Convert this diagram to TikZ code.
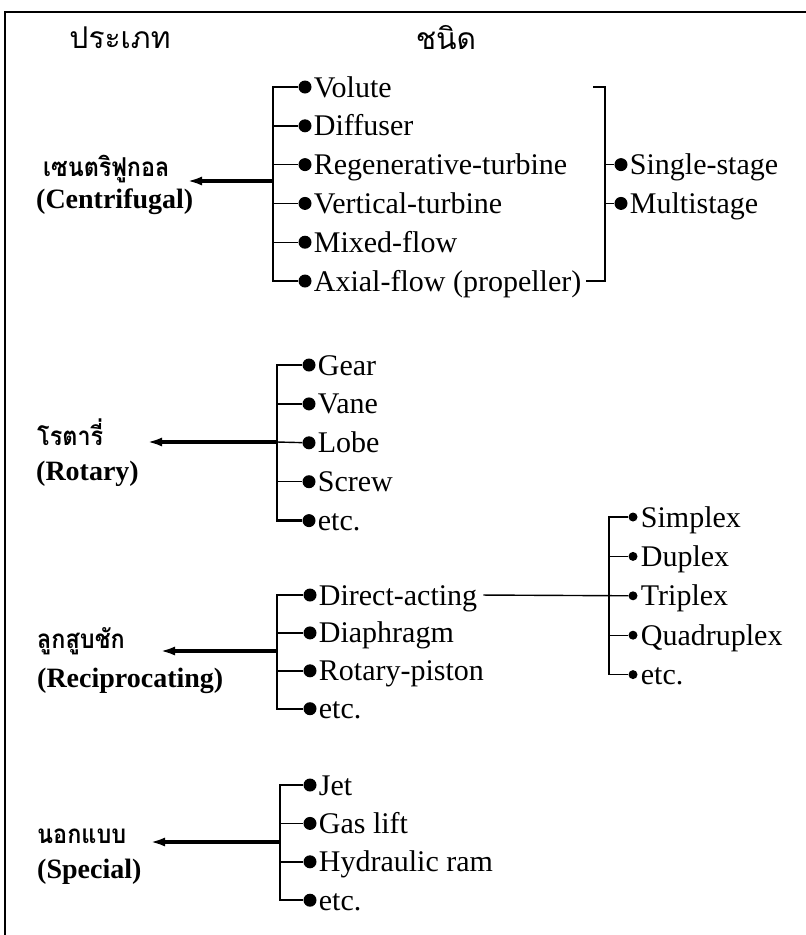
\documentclass[tikz,border=0pt]{standalone}
\usepackage{fontspec}
\setmainfont{Liberation Serif}
\newfontfamily\thaifont[Script=Thai]{Loma}
\newfontfamily\thaikind[Script=Thai, FakeStretch=0.9]{Loma}
\usetikzlibrary{positioning,arrows.meta}

\begin{document}
\begin{tikzpicture}[x=1pt,y=-1pt,
        dot/.style={circle, fill, inner sep=0pt, minimum size=13pt},
        smalldot/.style={circle, fill, inner sep=0pt, minimum size=9pt},
        item/.style={
            anchor=west,
            inner sep=0pt,
            text height=20pt,
            text depth=0pt,
            font=\fontsize{30}{34}\selectfont
        },
        kind/.style={anchor=west, inner sep=0pt, font=\thaikind\bfseries\fontsize{26}{30}\selectfont},
        kinden/.style={anchor=west, inner sep=0pt, font=\bfseries\fontsize{28}{32}\selectfont},
        head/.style={inner sep=0pt, font=\thaifont\fontsize{30}{34}\selectfont},
        trunk/.style={line width=2.4pt},
        twig/.style={line width=1.4pt},
        link/.style={line width=3.6pt, -{Latex[length=15pt,width=9pt]}}
    ]
        \useasboundingbox (0,0) rectangle (806,935);
        \draw[line width=1.5pt] (5,935) -- (5,12) -- (806,12);

        \node[head] (type) at (120,38) {ประเภท};
        \node[head] (sort) at (446,38) {ชนิด};

        % centrifugal
        \node[dot] (volute) at (305,87) {};
        \node[item, right=2pt of volute] (voluteT) {Volute};
        \node[dot, below=25.4pt of volute] (diffuser) {};
        \node[item, right=2pt of diffuser] (diffuserT) {Diffuser};
        \node[dot, below=25.4pt of diffuser] (regen) {};
        \node[item, right=2pt of regen] (regenT) {Regenerative-turbine};
        \node[dot, below=25.4pt of regen] (vertical) {};
        \node[item, right=2pt of vertical] (verticalT) {Vertical-turbine};
        \node[dot, below=25.4pt of vertical] (mixed) {};
        \node[item, right=2pt of mixed] (mixedT) {Mixed-flow};
        \node[dot, below=25.4pt of mixed] (axial) {};
        \node[item, right=2pt of axial] (axialT) {Axial-flow (propeller)};

        \coordinate (ctrunk) at (273,181);
        \coordinate (ctip) at (187,181);
        \draw[trunk] (volute) -| (ctrunk) |- (axial);
        \draw[twig] (ctrunk |- diffuser) -- (diffuser);
        \draw[twig] (ctrunk |- regen) -- (regen);
        \draw[twig] (ctrunk |- vertical) -- (vertical);
        \draw[twig] (ctrunk |- mixed) -- (mixed);
        \draw[link] (ctrunk) -- (ctip);

        \node[kind] (centri) at (43,169) {เซนตริฟูกอล};
        \node[kinden] (centriEn) at (36,202) {(Centrifugal)};

        \coordinate (btop) at (593,87);
        \coordinate (bcol) at (605,182);
        \draw[trunk] (btop) -| (bcol) |- ([xshift=5pt]axialT.east);
        \node[dot, xshift=16pt] (single) at (bcol |- regen) {};
        \node[item, right=2pt of single] (singleT) {Single-stage};
        \node[dot, xshift=16pt] (multi) at (bcol |- vertical) {};
        \node[item, right=2pt of multi] (multiT) {Multistage};
        \draw[twig] (bcol |- single) -- (single);
        \draw[twig] (bcol |- multi) -- (multi);

        % rotary
        \node[dot] (gear) at (309,365) {};
        \node[item, right=2pt of gear] (gearT) {Gear};
        \node[dot, below=25.5pt of gear] (vane) {};
        \node[item, right=2pt of vane] (vaneT) {Vane};
        \node[dot, below=25.5pt of vane] (lobe) {};
        \node[item, right=2pt of lobe] (lobeT) {Lobe};
        \node[dot, below=25.5pt of lobe] (screw) {};
        \node[item, right=2pt of screw] (screwT) {Screw};
        \node[dot, below=25.5pt of screw] (retc) {};
        \node[item, right=2pt of retc] (retcT) {etc.};

        \coordinate (rtrunk) at (277,442);
        \coordinate (rtip) at (147,442);
        \draw[trunk] (gear) -| (rtrunk) |- (retc);
        \draw[twig] (rtrunk |- vane) -- (vane);
        \draw[twig] (rtrunk) -- (lobe);
        \draw[twig] (rtrunk |- screw) -- (screw);
        \draw[link] (rtrunk) -- (rtip);

        \node[kind] (rotary) at (37,432) {โรตารี่};
        \node[kinden] (rotaryEn) at (36,474) {(Rotary)};

        % reciprocating
        \node[dot] (direct) at (310,595) {};
        \node[item, right=2pt of direct] (directT) {Direct-acting};
        \node[dot, below=24.5pt of direct] (diaphragm) {};
        \node[item, right=2pt of diaphragm] (diaphragmT) {Diaphragm};
        \node[dot, below=24.5pt of diaphragm] (piston) {};
        \node[item, right=2pt of piston] (pistonT) {Rotary-piston};
        \node[dot, below=24.5pt of piston] (petc) {};
        \node[item, right=2pt of petc] (petcT) {etc.};

        \coordinate (ptrunk) at (277,651);
        \coordinate (ptip) at (160,651);
        \draw[trunk] (direct) -| (ptrunk) |- (petc);
        \draw[twig] (ptrunk |- diaphragm) -- (diaphragm);
        \draw[twig] (ptrunk |- piston) -- (piston);
        \draw[link] (ptrunk) -- (ptip);

        \node[kind] (recip) at (37,641) {ลูกสูบชัก};
        \node[kinden] (recipEn) at (37,681) {(Reciprocating)};

        \node[smalldot] (simplex) at (633,517) {};
        \node[item, right=3pt of simplex] (simplexT) {Simplex};
        \node[smalldot, below=30pt of simplex] (duplex) {};
        \node[item, right=3pt of duplex] (duplexT) {Duplex};
        \node[smalldot, below=30pt of duplex] (triplex) {};
        \node[item, right=3pt of triplex] (triplexT) {Triplex};
        \node[smalldot, below=30pt of triplex] (quad) {};
        \node[item, right=3pt of quad] (quadT) {Quadruplex};
        \node[smalldot, below=30pt of quad] (setc) {};
        \node[item, right=3pt of setc] (setcT) {etc.};

        \coordinate (strunk) at (609,595);
        \draw[twig] (simplex) -| (strunk) |- (setc);
        \draw[twig] (strunk |- duplex) -- (duplex);
        \draw[twig] (strunk |- quad) -- (quad);
        \draw[twig, shorten <=6pt] (directT.east) -- (triplex);

        % special
        \node[dot] (jet) at (310,785) {};
        \node[item, right=2pt of jet] (jetT) {Jet};
        \node[dot, below=25pt of jet] (gaslift) {};
        \node[item, right=2pt of gaslift] (gasliftT) {Gas lift};
        \node[dot, below=25pt of gaslift] (ram) {};
        \node[item, right=2pt of ram] (ramT) {Hydraulic ram};
        \node[dot, below=25pt of ram] (xetc) {};
        \node[item, right=2pt of xetc] (xetcT) {etc.};

        \coordinate (xtrunk) at (280,842);
        \coordinate (xtip) at (150,842);
        \draw[trunk] (jet) -| (xtrunk) |- (xetc);
        \draw[twig] (xtrunk |- gaslift) -- (gaslift);
        \draw[twig] (xtrunk |- ram) -- (ram);
        \draw[link] (xtrunk) -- (xtip);

        \node[kind] (special) at (37,836) {นอกแบบ};
        \node[kinden] (specialEn) at (37,872) {(Special)};
    \end{tikzpicture}
\end{document}
